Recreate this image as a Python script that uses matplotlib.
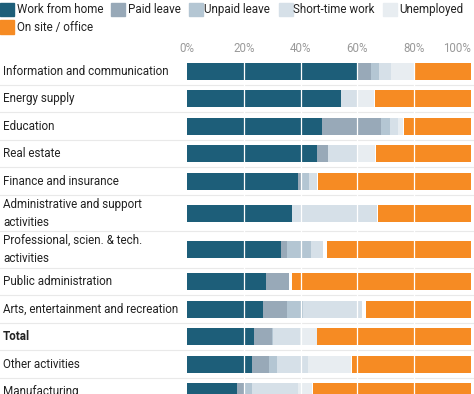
import matplotlib
matplotlib.use("Agg")
import matplotlib.pyplot as plt
import matplotlib.transforms as mtransforms
from matplotlib.patches import Rectangle

plt.rcParams['font.family'] = ['Roboto', 'DejaVu Sans']

# share of workers (%) by sector
sectors = ['Information and communication', 'Energy supply', 'Education', 'Real estate',
           'Finance and insurance', 'Administrative and support\nactivities',
           'Professional, scien. & tech.\nactivities', 'Public administration',
           'Arts, entertainment and recreation', 'Total', 'Other activities', 'Manufacturing']
work_from_home = [60.0, 54.2, 47.6, 45.7, 39.2, 37.0, 33.1, 27.8, 26.9, 23.7, 23.0, 17.7]
paid_leave     = [4.7, 0.0, 20.6, 3.8, 0.8, 0.0, 2.0, 8.2, 8.2, 6.1, 6.0, 2.7]
unpaid_leave   = [3.0, 0.0, 3.3, 0.0, 3.0, 0.0, 8.5, 0.0, 5.6, 0.6, 2.8, 2.6]
short_time     = [4.0, 5.9, 2.9, 10.6, 2.7, 29.8, 4.4, 0.0, 20.8, 9.4, 10.9, 16.2]
unemployed     = [8.5, 5.9, 1.8, 6.1, 0.0, 0.0, 0.0, 0.0, 0.0, 5.9, 14.9, 4.7]
on_site        = [19.8, 33.8, 23.6, 33.5, 54.0, 32.9, 50.6, 63.0, 37.0, 54.1, 42.0, 55.7]

series = ['Work from home', 'Paid leave', 'Unpaid leave', 'Short-time work', 'Unemployed',
          'On site / office']
colors = ['#1d5e79', '#98a9b8', '#b4c6d3', '#d6e0e8', '#e8edf1', '#f68b23']

W, H = 474, 394
fig = plt.figure(figsize=(W / 100, H / 100), dpi=100)

# axes in pixel-like units: y runs from top of plot area (58px) to bottom of figure
x0, x1, ytop = 187, 471, 57.25
ax = fig.add_axes([x0 / W, 0, (x1 - x0) / W, (H - 58) / H])
ax.set_xlim(0, 100)
ax.set_ylim(H, 58)

# row heights depend on number of label lines
ypos, bounds = [], [ytop]
y = ytop
for s in sectors:
    h = 27.5 if '\n' not in s else 36.5
    ypos.append(y + h / 2)
    y += h
    bounds.append(y)

left = [0.0] * len(sectors)
for vals, col in zip([work_from_home, paid_leave, unpaid_leave, short_time, unemployed], colors[:5]):
    ax.barh(ypos, vals, left=left, height=17, color=col, linewidth=0, zorder=2)
    left = [l + v for l, v in zip(left, vals)]
ax.barh(ypos, on_site, left=[100 - v for v in on_site], height=17, color=colors[5],
        linewidth=0, zorder=2)

# white grid lines over bars
for g in [20, 40, 60, 80]:
    ax.axvline(g, color='white', lw=0.9, zorder=3)

# row separators and labels
blend = mtransforms.blended_transform_factory(fig.transFigure, ax.transData)
for b in bounds[1:-1]:
    ax.plot([0, 1], [b, b], transform=blend, color='#e9e9e9', lw=0.8, clip_on=False, zorder=1)
for s, yp in zip(sectors, ypos):
    ax.text(3 / W, yp, s, transform=blend, va='center', ha='left', fontsize=8.4,
            color='#222222', linespacing=1.5,
            fontweight='bold' if s == 'Total' else 'normal')

ax.xaxis.tick_top()
ax.set_xticks([0, 20, 40, 60, 80, 100])
ax.set_xticklabels(['0%', '20%', '40%', '60%', '80%', '100%'])
ax.tick_params(axis='x', length=0, pad=2.5, labelsize=8.3, labelcolor='#9a9a9a')
ax.get_xticklabels()[-1].set_horizontalalignment('right')
ax.set_yticks([])
for sp in ax.spines.values():
    sp.set_visible(False)

# legend drawn by hand (two rows)
leg_rows = [(9.5, [(0, 17), (111, 128), (189, 204), (279, 293), (383, 399)]),
            (27, [(0, 17)])]
k = 0
for yc, items in leg_rows:
    for px, tx in items:
        fig.patches.append(Rectangle((px / W, 1 - (yc + 6.5) / H), 13.5 / W, 13 / H,
                                     transform=fig.transFigure, color=colors[k]))
        fig.text(tx / W, 1 - yc / H, series[k], va='center', ha='left', fontsize=8.4,
                 color='#222222')
        k += 1

fig.savefig('out.png', dpi=100)
